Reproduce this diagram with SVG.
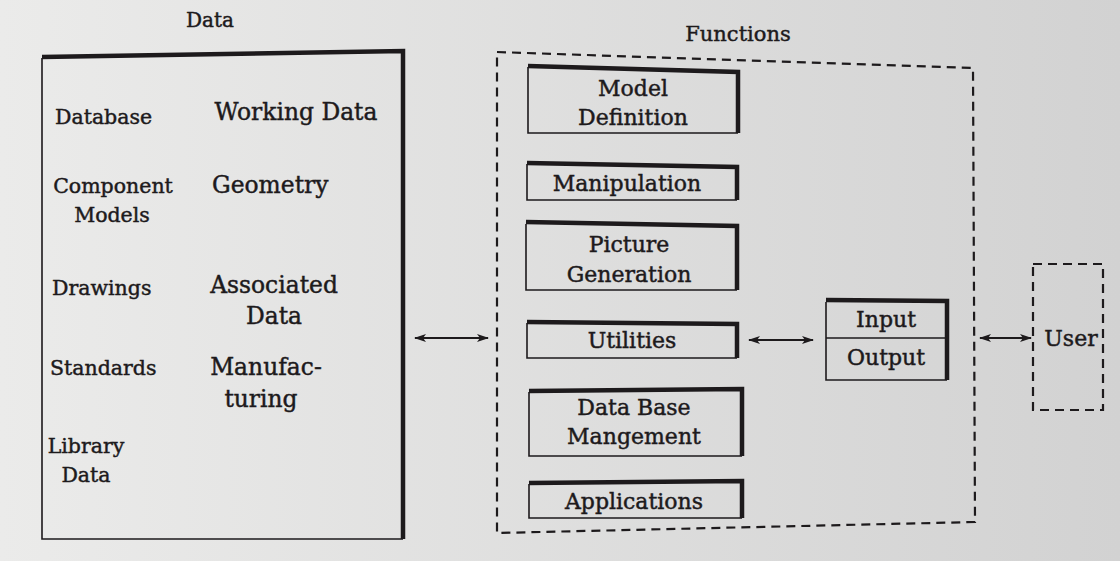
<svg xmlns="http://www.w3.org/2000/svg" width="1120" height="561" viewBox="0 0 1120 561">
<defs>
<linearGradient id="bg" x1="0" y1="0" x2="1" y2="0">
<stop offset="0" stop-color="#ebebea"/>
<stop offset="1" stop-color="#d2d2d2"/>
</linearGradient>
<marker id="ah" viewBox="0 0 12 10" refX="11" refY="5" markerWidth="12" markerHeight="10" markerUnits="userSpaceOnUse" orient="auto-start-reverse">
<path d="M0,1 L12,5 L0,9 L3,5 Z" fill="#1d1a1c"/>
</marker>
</defs>
<style>
text{font-family:"DejaVu Serif","Liberation Serif",serif;fill:#1d1a1c;stroke:#1d1a1c;stroke-width:0.45;text-anchor:middle;dominant-baseline:central}
.l{text-anchor:start}
.d{font-size:20.5px}
.w{font-size:23.4px}
.f{font-size:22px}
.t{font-size:20px}
.thin{fill:none;stroke:#1d1a1c;stroke-width:1.6}
.thick{fill:none;stroke:#1d1a1c;stroke-width:4.5;stroke-linejoin:miter}
.dash{fill:none;stroke:#1d1a1c;stroke-width:2.2;stroke-dasharray:9 6}
.conn{fill:none;stroke:#1d1a1c;stroke-width:1.8}
</style>
<rect width="1120" height="561" fill="url(#bg)"/>

<g id="data">
<text x="210" y="20" class="t">Data</text>
<path class="thin" d="M403,539 L42,539 L42,58"/>
<path class="thick" d="M42,57 L403,51 L403,539"/>
<text x="55" y="117" class="l d">Database</text>
<text x="296" y="112" class="w">Working Data</text>
<text x="113" y="186" class="d">Component</text>
<text x="112" y="215" class="d">Models</text>
<text x="212" y="185" class="l w">Geometry</text>
<text x="52" y="288" class="l d">Drawings</text>
<text x="274" y="285" class="w">Associated</text>
<text x="274" y="316" class="w">Data</text>
<text x="50" y="368" class="l d">Standards</text>
<text x="266" y="367" class="w">Manufac-</text>
<text x="261" y="399" class="w">turing</text>
<text x="86" y="446" class="d">Library</text>
<text x="86" y="475" class="d">Data</text>
</g>

<g id="functions">
<text x="738" y="34" class="t" style="font-size:21px">Functions</text>
<path class="dash" d="M497,52 L973,68 L975,522 L497,533 Z"/>
</g>

<g id="model-definition">
<path class="thin" d="M738,133 L528,133 L528,67"/>
<path class="thick" d="M528,66 L738,72 L738,133"/>
<text x="633" y="88" class="f">Model</text>
<text x="633" y="117" class="f">Definition</text>
</g>

<g id="manipulation">
<path class="thin" d="M737,200 L527,200 L527,164"/>
<path class="thick" d="M527,163 L737,167 L737,200"/>
<text x="627" y="183" class="f">Manipulation</text>
</g>

<g id="picture-generation">
<path class="thin" d="M737,290 L526,290 L526,224"/>
<path class="thick" d="M526,222 L737,226 L737,290"/>
<text x="629" y="244" class="f">Picture</text>
<text x="629" y="274" class="f">Generation</text>
</g>

<g id="utilities">
<path class="thin" d="M737,358 L527,358 L527,323"/>
<path class="thick" d="M527,322 L737,324 L737,358"/>
<text x="632" y="340" class="f">Utilities</text>
</g>

<g id="data-base-management">
<path class="thin" d="M742,456 L529,456 L529,392"/>
<path class="thick" d="M529,391 L742,389 L742,456"/>
<text x="634" y="407" class="f">Data Base</text>
<text x="634" y="436" class="f">Mangement</text>
</g>

<g id="applications">
<path class="thin" d="M742,518 L529,518 L529,484"/>
<path class="thick" d="M529,483 L742,481 L742,518"/>
<text x="634" y="501" class="f">Applications</text>
</g>

<g id="input-output">
<path class="thin" d="M947,380 L826,380 L826,302 M826,338 L946,338"/>
<path class="thick" d="M826,300 L947,301 L947,380"/>
<text x="886" y="319" class="f">Input</text>
<text x="886" y="357" class="f">Output</text>
</g>

<g id="user">
<path class="dash" d="M1033,264 L1103,264 L1103,410 L1033,410 Z"/>
<text x="1071" y="338" class="f">User</text>
</g>

<g id="connectors">
<line class="conn" x1="415" y1="338" x2="488" y2="338" marker-start="url(#ah)" marker-end="url(#ah)"/>
<line class="conn" x1="749" y1="340" x2="813" y2="340" marker-start="url(#ah)" marker-end="url(#ah)"/>
<line class="conn" x1="980" y1="338" x2="1031" y2="338" marker-start="url(#ah)" marker-end="url(#ah)"/>
</g>
</svg>
